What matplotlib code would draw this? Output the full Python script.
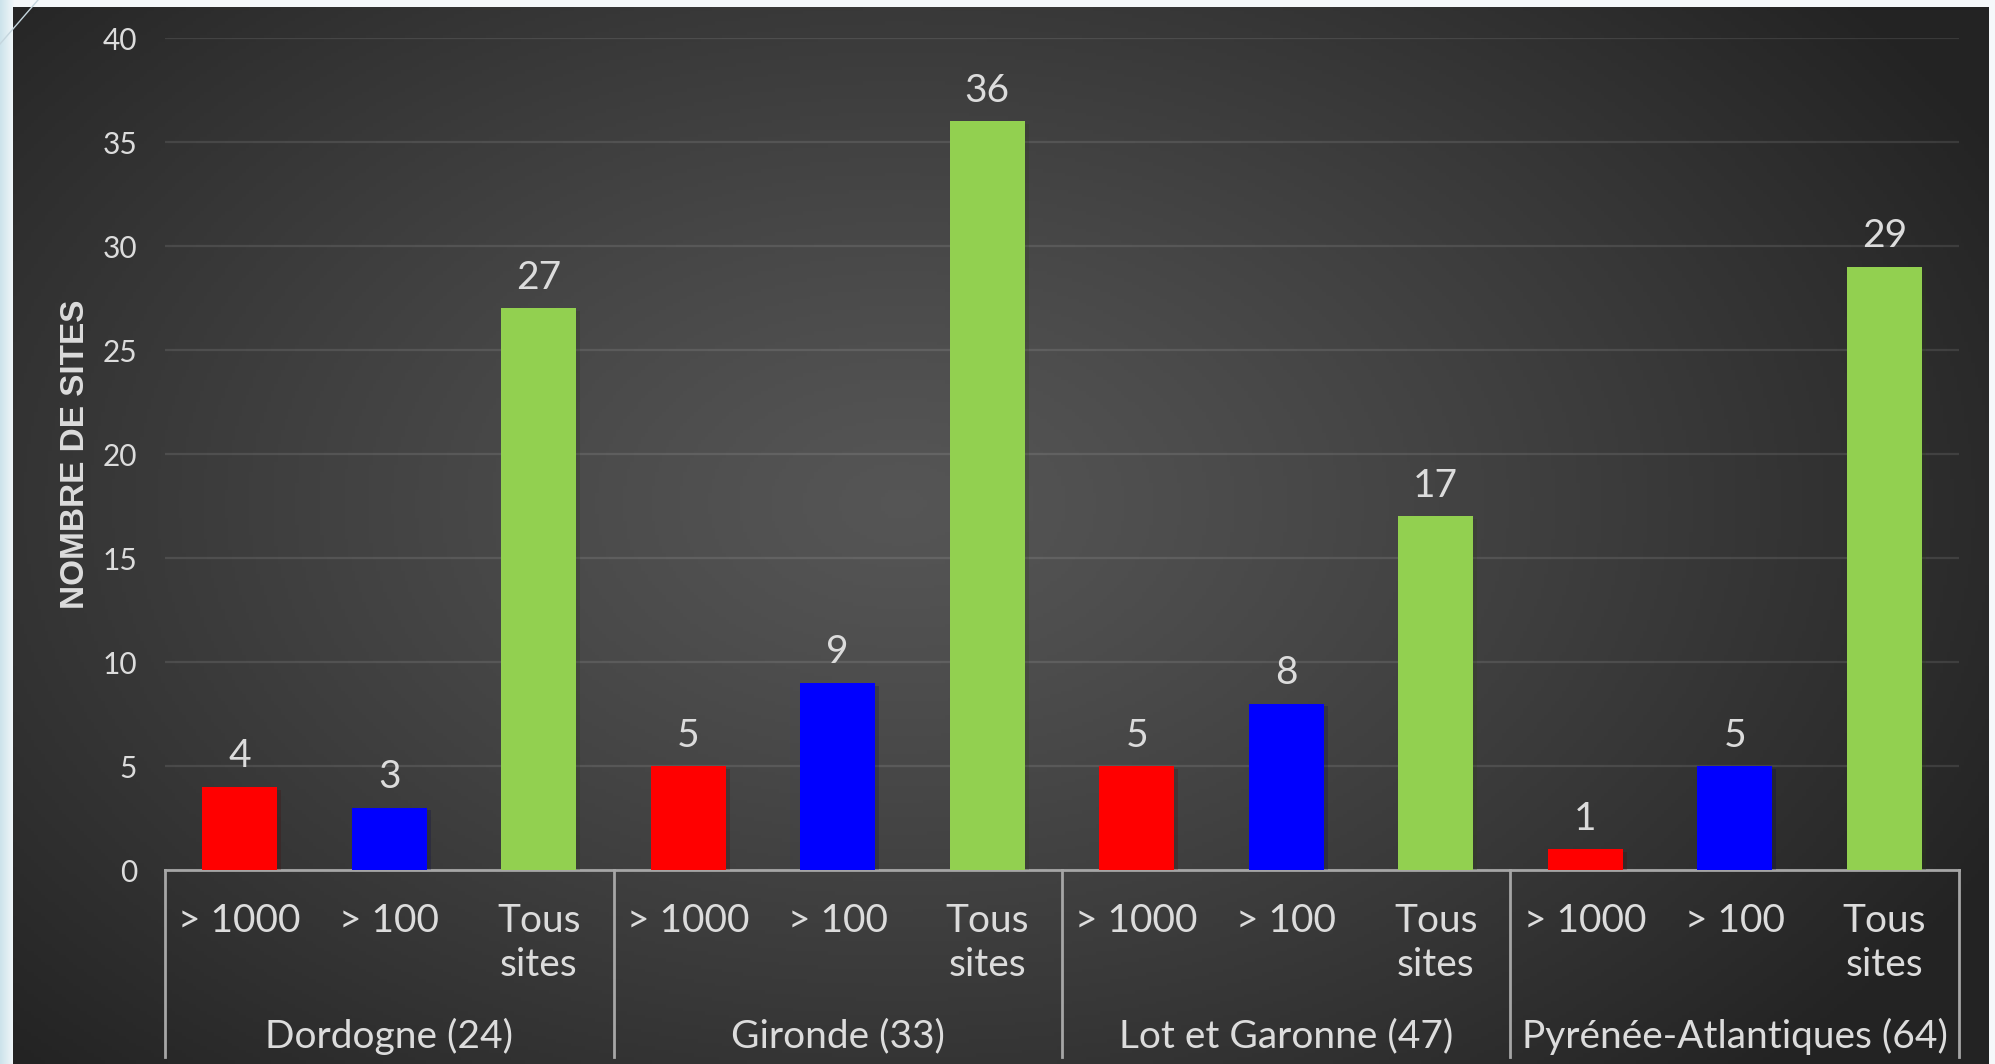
import numpy as np
import matplotlib.pyplot as plt
import matplotlib.patheffects as pe
from matplotlib.lines import Line2D

plt.rcParams['font.family'] = ['Lato', 'DejaVu Sans']

groups = ["Dordogne (24)", "Gironde (33)", "Lot et Garonne (47)", "Pyrénée-Atlantiques (64)"]
sub_labels = ["> 1000", "> 100", "Tous\nsites"]
values = [4, 3, 27, 5, 9, 36, 5, 8, 17, 1, 5, 29]
bar_colors = ["#FF0000", "#0000FF", "#92D050"]
yticks = [0, 5, 10, 15, 20, 25, 30, 35, 40]

W, H = 1995, 1064
TXT = "#dcdcdc"

fig = plt.figure(figsize=(W / 100, H / 100), dpi=100)
fig.patch.set_facecolor("#f5f8fa")

# slide background: light border, diagonal decoration, dark radial panel
bg = fig.add_axes([0, 0, 1, 1], zorder=0)
bg.axis("off")
strip = np.linspace(0, 1, 50).reshape(1, -1)
bg.imshow(np.dstack([0.80 + 0.15 * strip, 0.89 + 0.08 * strip, 0.92 + 0.06 * strip]),
          extent=(0, 14, H, 0), aspect="auto")
bg.plot([0, 38], [44, 0], color="#c5d6de", lw=1)

ny, nx = 300, 560
yy, xx = np.mgrid[0:1:ny * 1j, 0:1:nx * 1j]
d = np.sqrt(((xx - 0.45) / 0.62) ** 2 + ((yy - 0.47) / 0.75) ** 2)
d = np.clip(d, 0, 1)
shade = 0.335 - (0.335 - 0.14) * d ** 1.2
bg.imshow(np.dstack([shade, shade, shade]), extent=(13, 1989, H, 7), aspect="auto", zorder=1)
bg.set_xlim(0, W)
bg.set_ylim(H, 0)

# main chart
ax = fig.add_axes([165 / W, 194 / H, 1794 / W, 832 / H], zorder=2)
ax.set_facecolor("none")
x = np.arange(len(values))
cols = [bar_colors[i % 3] for i in range(len(values))]
bars = ax.bar(x, values, width=0.5, color=cols, zorder=3)
for b in bars:
    b.set_path_effects([pe.SimplePatchShadow(offset=(3, -2), alpha=0.22), pe.Normal()])

ax.set_xlim(-0.5, len(values) - 0.5)
ax.set_ylim(0, 40)
ax.set_yticks(yticks)
ax.set_xticks([])
ax.yaxis.grid(True, color="#ffffff", alpha=0.1, lw=1.6)
ax.set_axisbelow(True)
for s in ["top", "right", "left"]:
    ax.spines[s].set_visible(False)
ax.spines["bottom"].set_color("#a6a6a6")
ax.spines["bottom"].set_linewidth(2)
ax.tick_params(axis="y", length=0, pad=20, labelsize=21.5, labelcolor=TXT)

for xi, v in zip(x, values):
    ax.annotate(str(v), (xi, v), xytext=(0, 14), textcoords="offset points",
                ha="center", va="baseline", fontsize=28, color=TXT)

trans = ax.get_xaxis_transform()
px = 832.0
for xi in x:
    for k, line in enumerate(sub_labels[xi % 3].split("\n")):
        ax.text(xi, -(51 + 44 * k) / px, line, transform=trans, ha="center", va="center",
                fontsize=28, color=TXT)

for g, name in enumerate(groups):
    ax.text(3 * g + 1, -(166) / px, name, transform=trans, ha="center", va="center",
            fontsize=28, color=TXT)

for sx in np.arange(-0.5, len(values), 3):
    ax.add_line(Line2D([sx, sx], [0, -(187) / px], transform=trans, clip_on=False,
                       color="#a6a6a6", lw=2))

fig.text(76 / W, (H - 454) / H, "NOMBRE DE SITES", rotation=90, ha="center", va="center",
         fontsize=24, fontweight="bold", color=TXT, family=["Liberation Sans", "DejaVu Sans"])

fig.savefig("out.png", dpi=100, facecolor=fig.get_facecolor())
